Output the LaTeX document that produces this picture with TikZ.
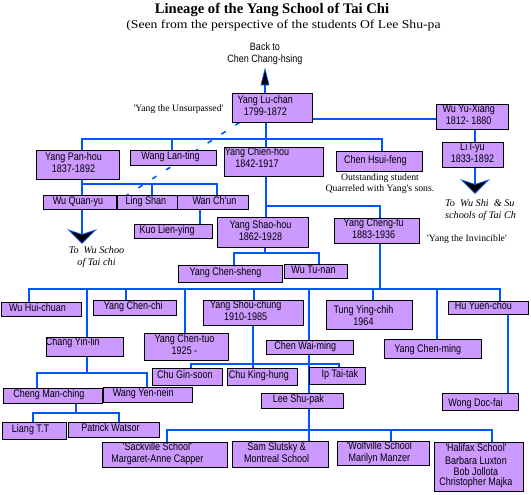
\documentclass[tikz,border=0pt]{standalone}
\usepackage{graphicx}
\usepackage{fontspec}
\setmainfont{Liberation Sans}
\newfontfamily\seriffont{Liberation Serif}
\usetikzlibrary{calc}
\definecolor{lblue}{RGB}{0,85,255}
\definecolor{boxfill}{RGB}{204,153,255}
\pgfdeclarelayer{bg}
\pgfsetlayers{bg,main}
\tikzset{
 box/.style={draw=black, fill=boxfill, line width=0.9pt, inner sep=0pt, font=\fontsize{9}{8.8}\selectfont},
 btext/.style={inner sep=0pt, align=center, font=\fontsize{9}{10.8}\selectfont},
 conn/.style={draw=lblue, line width=1.5pt, line join=miter},
 dashconn/.style={draw=lblue, line width=1.6pt, dash pattern=on 5pt off 11.5pt},
 arrowhead/.style={fill=black, draw=lblue, line width=0.7pt, line join=miter},
 note/.style={inner sep=0pt, align=center, font=\seriffont\fontsize{9.7}{11}\selectfont},
 inote/.style={inner sep=0pt, align=left, font=\seriffont\itshape\fontsize{10.2}{11.5}\selectfont},
}
% #1 = 2*text x shift, #2 = 2*text upward shift, #3 name, #4 x1, #5 y1, #6 x2, #7 y2, #8 text
\newcommand\ybox[8]{\node[box, minimum width={(#6)-(#4)}, minimum height={(#7)-(#5)}] (#3) at ({((#4)+(#6))/2},{((#5)+(#7))/2}) {\hspace*{#1pt}\scalebox{1}[1.22]{\parbox[c]{\dimexpr #6pt-#4pt\relax}{\centering\strut #8\strut\par\vspace*{#2pt}}}};}
\begin{document}
\begin{tikzpicture}[x=1pt,y=-1pt]
\useasboundingbox (0,0) rectangle (531,495);

% titles
\node[inner sep=0pt, anchor=base, font=\seriffont\bfseries\fontsize{14.6}{16}\selectfont] (title) at (272,13.6) {Lineage of the Yang School of Tai Chi};
\node[inner sep=0pt, anchor=base, font=\seriffont\fontsize{12}{14}\selectfont] (subtitle) at (283.5,29) {\scalebox{1.14}[1]{(Seen from the perspective of the students Of Lee Shu-pa}};
\node[btext, font=\fontsize{9}{10}\selectfont] (back) at (265,53.6) {\scalebox{1}[1.18]{\parbox[c]{90pt}{\centering Back to\\Chen Chang-hsing}}};
\coordinate (backtip) at (265,69);

% boxes
\ybox{-13.4}{0}{ylc}{232}{93}{312}{122}{Yang Lu-chan\\1799-1872}
\ybox{-6.6}{0}{wyx}{436}{104}{508}{129}{Wu Yu-Xiang\\1812- 1880}
\ybox{0}{0}{liy}{442}{142}{503}{167}{Li I-yu\\1833-1892}
\ybox{-8}{0}{yph}{36}{150}{119}{179}{Yang Pan-hou\\1837-1892}
\ybox{-5}{0}{wlt}{130}{150}{216}{165}{Wang Lan-ting}
\ybox{-33}{4.4}{ych}{224}{149}{323}{175}{Yang Chien-hou\\1842-1917}
\ybox{-7}{0}{chf}{336}{151}{422}{171}{Chen Hsui-feng}
\ybox{-3}{0}{wqy}{43}{195}{116}{209}{Wu Quan-yu}
\ybox{-2.4}{0}{lsh}{117}{195}{177}{209}{Ling Shan}
\ybox{4}{0}{wch}{179}{195}{246}{209}{Wan Ch\textquotesingle un}
\ybox{-11.6}{0}{kly}{134}{224}{212}{238}{Kuo Lien-ying}
\ybox{-4}{0}{ysh}{217}{217}{308}{247}{Yang Shao-hou\\1862-1928}
\ybox{-5.8}{0}{ycf}{334}{218}{419}{243}{Yang Cheng-fu\\1883-1936}
\ybox{-9}{0}{ycs}{178}{265}{282}{282}{Yang Chen-sheng}
\ybox{-4}{0}{wtn}{284}{264}{347}{278}{Wu Tu-nan}
\ybox{-7}{0}{whc}{1}{302}{81}{316}{Wu Hui-chuan}
\ybox{-2.4}{0}{ycc}{93}{300}{176}{315}{Yang Chen-chi}
\ybox{-14.6}{0}{ysc}{203}{300}{303}{325}{Yang Shou-chung\\1910-1985}
\ybox{-11}{-3.9}{tyc}{326}{300}{412}{329}{Tung Ying-chih\\*1964}
\ybox{-9.2}{0}{hyc}{448}{301}{528}{314}{Hu Yuen-chou}
\ybox{-23.4}{6.4}{cyl}{46}{338}{123}{356}{Chang Yin-lin}
\ybox{-3}{0}{yct}{144}{333}{228}{360}{Yang Chen-tuo\\1925 -}
\ybox{-8.4}{0}{cwm}{266}{340}{353}{354}{Chen Wai-ming}
\ybox{-9.4}{-3.1}{ycm}{384}{339}{481}{358}{Yang Chen-ming}
\ybox{-4}{0}{cgs}{152}{368}{222}{385}{Chu Gin-soon}
\ybox{-6}{0}{ckh}{227}{368}{297}{385}{Chu King-hung}
\ybox{4.6}{0}{itt}{312}{367}{363}{384}{Ip Tai-tak}
\ybox{-7.4}{0}{cmc}{3}{388}{102}{403}{Cheng Man-ching}
\ybox{-8.6}{0}{wyn}{103}{387}{192}{402}{Wang Yen-nein}
\ybox{-7.4}{0}{lsp}{261}{393}{343}{408}{Lee Shu-pak}
\ybox{-9}{-3.8}{wdf}{442}{393}{518}{410}{Wong Doc-fai}
\ybox{-7}{0}{ltt}{2}{422}{66}{439}{Liang T.T}
\ybox{-6}{0}{pwa}{68}{422}{159}{437}{Patrick Watsor}
\ybox{-14.4}{0}{sac}{102}{442}{227}{467}{\textquotesingle Sackville School\textquotesingle\\Margaret-Anne Capper}
\ybox{-6.6}{0}{sam}{232}{441}{328}{467}{Sam Slutsky \&\\Montreal School}
\ybox{-7.4}{0}{wol}{337}{441}{429}{465}{\textquotesingle Wolfville School\\Marilyn Manzer}
\ybox{-5}{0}{hal}{434}{442}{523}{491}{\textquotesingle Halifax School\textquotesingle\\Barbara Luxton\\Bob Jollota\\Christopher Majka}

% notes
\node[note] (unsurp) at (178.5,109.3) {\textquotesingle Yang the Unsurpassed\textquotesingle};
\node[note] (outst) at (380,183.8) {Outstanding student\\Quarreled with Yang\textquotesingle s sons.};
\node[note] (invinc) at (467,239) {\textquotesingle Yang the Invincible\textquotesingle};
\node[inote, anchor=west] (wushi) at (445,210) {To \ Wu Shi \ \& Su\\schools of Tai Ch};
\node[inote, align=center] (wuschool) at (96.5,257.2) {To \ Wu Schoo\\of Tai chi};

% connectors
\begin{pgfonlayer}{bg}
\draw[dashconn] ($(ylc.south west)+(8,0)$) -- (wqy.east);
\draw[conn] (ylc.north -| backtip) -- ($(backtip)+(0,15)$);
\draw[conn] (ylc.south -| 266,0) -- (ych.north -| 266,0);
\draw[conn] (yph.north -| 82,0) -- (82,139) -- (382,139) -- (chf.north -| 382,0);
\draw[conn] (172,139) -- (wlt.north -| 172,0);
\draw[conn] (ylc.east |- 0,119) -- (wyx.west |- 0,119);
\draw[conn] (wyx.south -| 475,0) -- (liy.north -| 475,0);
\draw[conn] (liy.south -| 475,0) -- (475,185);
\draw[conn] (yph.south -| 82,0) -- (82,184);
\draw[conn] (wqy.north -| 82,0) -- (82,184) -- (217,184) -- (wch.north -| 217,0);
\draw[conn] (152,184) -- (lsh.north -| 152,0);
\draw[conn] (wqy.south -| 82,0) -- (82,234);
\draw[conn] (wch.south -| 200,0) -- (kly.north -| 200,0);
\draw[conn] (ych.south -| 266,0) -- (ysh.north -| 266,0);
\draw[conn] (266,206) -- (380,206) -- (ycf.north -| 380,0);
\draw[conn] (ysh.south -| 265,0) -- (265,253);
\draw[conn] (ycs.north -| 234,0) -- (234,253) -- (319,253) -- (wtn.north -| 319,0);
\draw[conn] (ycf.south -| 380,0) -- (380,289);
\draw[conn] (whc.north -| 29,0) -- (29,289) -- (500,289) -- (hyc.north -| 500,0);
\foreach \xx/\nn in {87/cyl,126/ycc,185/yct,254/ysc,373/tyc,437/ycm}
  \draw[conn] (\xx,289) -- (\nn.north -| \xx,0);
\draw[conn] (309,289) -- (lsp.north -| 309,0);
\draw[conn] (ysc.south -| 253,0) -- (ckh.north -| 253,0);
\draw[conn] (cgs.north -| 191,0) -- (191,364) -- (339,364) -- (itt.north -| 339,0);
\draw[conn] (hyc.south -| 508,0) -- (wdf.north -| 508,0);
\draw[conn] (cyl.south -| 87,0) -- (87,373);
\draw[conn] (cmc.north -| 37,0) -- (37,373) -- (147,373) -- (wyn.north -| 147,0);
\draw[conn] (cmc.south -| 76,0) -- (76,413);
\draw[conn] (ltt.north -| 33,0) -- (33,413) -- (119,413) -- (pwa.north -| 119,0);
\draw[conn] (lsp.south -| 309,0) -- (sam.north -| 309,0);
\draw[conn] (sac.north -| 167,0) -- (167,430) -- (492,430) -- (hal.north -| 492,0);
\draw[conn] (391,430) -- (wol.north -| 391,0);
\end{pgfonlayer}

% arrowheads
\filldraw[arrowhead] (backtip) -- ++(4,16) -- ++(-8,0) -- cycle;
\coordinate (ah1) at (82,230);
\coordinate (ah2) at (475,180);
\filldraw[arrowhead] (ah1) ++(-13.5,0) -- ++(13.5,4.5) -- ++(13.5,-4.5) -- ++(-13.5,13.3) -- cycle;
\filldraw[arrowhead] (ah2) ++(-13.5,0) -- ++(13.5,4.5) -- ++(13.5,-4.5) -- ++(-13.5,13.3) -- cycle;
\end{tikzpicture}
\end{document}
